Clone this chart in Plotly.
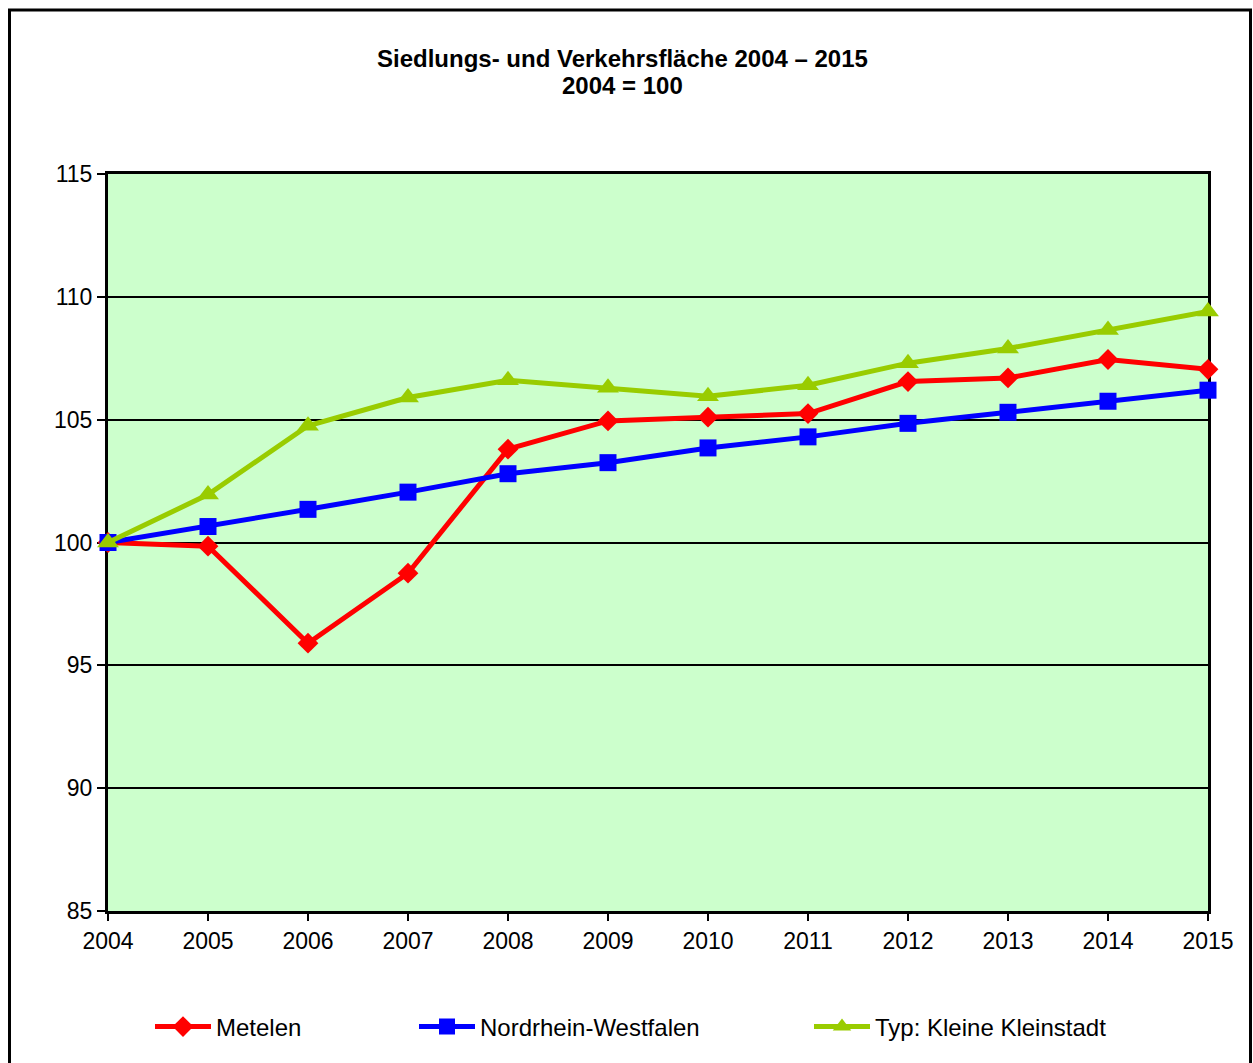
import plotly.graph_objects as go

years = [2004, 2005, 2006, 2007, 2008, 2009, 2010, 2011, 2012, 2013, 2014, 2015]
metelen = [100.0, 99.85, 95.9, 98.75, 103.8, 104.95, 105.1, 105.25, 106.55, 106.7, 107.45, 107.05]
nrw = [100.0, 100.65, 101.35, 102.05, 102.8, 103.25, 103.85, 104.3, 104.85, 105.3, 105.75, 106.2]
typ = [100.0, 101.95, 104.75, 105.9, 106.6, 106.3, 105.95, 106.4, 107.3, 107.9, 108.65, 109.4]
names = ["Metelen", "Nordrhein-Westfalen", "Typ: Kleine Kleinstadt"]
y_ticks = [85, 90, 95, 100, 105, 110, 115]

FONT = "Liberation Sans, Arial, sans-serif"

fig = go.Figure()
fig.add_trace(go.Scatter(x=years, y=metelen, name=names[0], mode="lines+markers", legend="legend",
                         line=dict(color="#FF0000", width=5), cliponaxis=False,
                         marker=dict(symbol="diamond", size=16, color="#FF0000")))
fig.add_trace(go.Scatter(x=years, y=nrw, name=names[1], mode="lines+markers", legend="legend2",
                         line=dict(color="#0000FF", width=5), cliponaxis=False,
                         marker=dict(symbol="square", size=17, color="#0000FF")))
fig.add_trace(go.Scatter(x=years, y=typ, name=names[2], mode="lines+markers", legend="legend3",
                         line=dict(color="#99CC00", width=5), cliponaxis=False,
                         marker=dict(symbol="triangle-up", size=19, color="#99CC00")))

W, H = 1253, 1063
L, R, T, B = 108, 45, 174, 152

def px_x(p):  # screen x -> paper
    return (p - 108) / 1100

def px_y(p):  # screen y -> paper
    return (911 - p) / 737

def leg(xs):
    return dict(orientation="h", x=px_x(xs), y=px_y(1027), xanchor="left", yanchor="middle",
                itemwidth=56, font=dict(family=FONT, size=24), bgcolor="rgba(0,0,0,0)",
                borderwidth=0)

fig.update_layout(
    width=W, height=H,
    margin=dict(l=L, r=R, t=T, b=B),
    paper_bgcolor="white",
    plot_bgcolor="#CCFFCC",
    font=dict(family=FONT, size=23, color="black"),
    showlegend=True,
    legend=leg(150),
    legend2=leg(414),
    legend3=leg(809),
    annotations=[
        dict(text="<b>Siedlungs- und Verkehrsfläche 2004 – 2015</b>", x=px_x(622), y=px_y(59),
             xref="paper", yref="paper", showarrow=False, xanchor="center", yanchor="middle",
             font=dict(family=FONT, size=24)),
        dict(text="<b>2004 = 100</b>", x=px_x(622), y=px_y(85),
             xref="paper", yref="paper", showarrow=False, xanchor="center", yanchor="middle",
             font=dict(family=FONT, size=24)),
    ],
    shapes=[
        dict(type="rect", xref="paper", yref="paper",
             x0=px_x(9.5), x1=px_x(1250.5), y0=px_y(1080), y1=px_y(10),
             line=dict(color="black", width=3), fillcolor="rgba(0,0,0,0)", layer="above"),
    ],
)

fig.update_xaxes(range=[2004, 2015], tickvals=years, ticktext=[str(y) for y in years],
                 showgrid=False, zeroline=False, showline=True, linecolor="black", linewidth=3,
                 mirror=True, ticks="outside", ticklen=7, tickwidth=2, tickcolor="black",
                 tickfont=dict(family=FONT, size=23), layer="below traces")
fig.update_yaxes(range=[85, 115], tickvals=y_ticks, showgrid=True, gridcolor="black", gridwidth=2,
                 zeroline=False, showline=True, linecolor="black", linewidth=3, mirror=True,
                 ticks="outside", ticklen=8, tickwidth=2, tickcolor="black",
                 tickfont=dict(family=FONT, size=23), layer="below traces")

fig.write_html("out.html", config={"displayModeBar": False},
               post_script="document.body.style.margin='0';document.body.style.overflow='hidden';")
